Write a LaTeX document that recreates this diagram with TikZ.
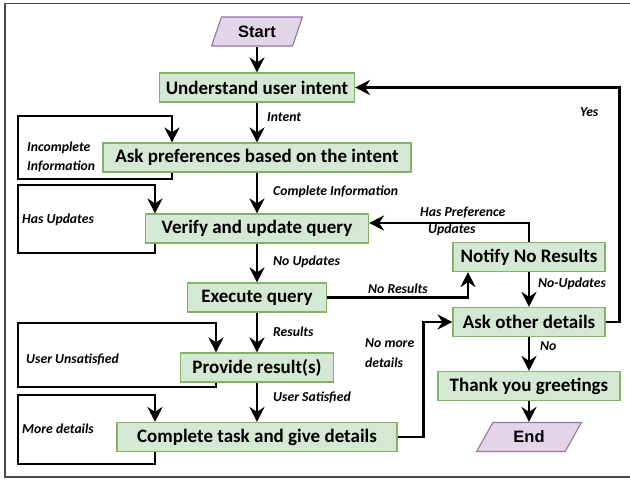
\documentclass[tikz,border=0pt]{standalone}
\usepackage{fontspec}
\setmainfont{Carlito}
\newfontfamily\termfont{Liberation Sans}
\usetikzlibrary{arrows.meta,shapes.geometric}
\definecolor{procF}{HTML}{D5E8D4}
\definecolor{procB}{HTML}{82B366}
\definecolor{termF}{HTML}{E1D5E7}
\definecolor{termB}{HTML}{9673A6}
\definecolor{frameC}{HTML}{4A4A4A}
\begin{document}
\begin{tikzpicture}[x=1pt,y=-1pt,
  proc/.style={draw=procB, fill=procF, line width=1.1pt, minimum height=29pt, inner sep=0pt, font=\bfseries\fontsize{19}{22}\selectfont},
  term/.style={trapezium, trapezium stretches=true, trapezium left angle=66, trapezium right angle=114, draw=termB, fill=termF, line width=1.1pt, minimum height=29pt, inner sep=0pt, font=\termfont\bfseries\fontsize{16.5}{19}\selectfont},
  arr/.style={line width=2.8pt, -{Stealth[length=15pt,width=15pt,inset=5pt]}},
  lab/.style={font=\bfseries\itshape\fontsize{13.7}{17}\selectfont, anchor=west, inner sep=0pt, align=left},
]
\useasboundingbox (0,0) rectangle (630,481);
\draw[frameC, line width=1.5pt] (5,3.5) rectangle (632,477);

% nodes
\node[term, minimum width=91pt] (start) at (257,31.5) {Start};
\node[proc, minimum width=195pt] (understand) at (257,87.5) {Understand user intent};
\node[proc, minimum width=308pt] (askpref) at (257,157.5) {Ask preferences based on the intent};
\node[proc, minimum width=223pt] (verify) at (257,228.5) {Verify and update query};
\node[proc, minimum width=139pt] (exec) at (257,297.5) {Execute query};
\node[proc, minimum width=153pt] (provide) at (257,367.5) {Provide result(s)};
\node[proc, minimum width=280pt] (complete) at (257,437) {Complete task and give details};
\node[proc, minimum width=152pt] (notify) at (529,257) {Notify No Results};
\node[proc, minimum width=152pt] (askother) at (529,322) {Ask other details};
\node[proc, minimum width=182pt] (thanks) at (529,386) {Thank you greetings};
\node[term, minimum width=105pt, trapezium left angle=60, trapezium right angle=120] (end) at (529,437) {End};

% helper x positions
\coordinate (xa) at (172,0);
\coordinate (xb) at (155,0);
\coordinate (xc) at (216,0);
\coordinate (xr) at (468,0);

% main column
\draw[arr] (start.south) -- (start.south |- understand.north);
\draw[arr] (understand.south) -- (understand.south |- askpref.north);
\draw[arr] (askpref.south) -- (askpref.south |- verify.north);
\draw[arr] (verify.south) -- (verify.south |- exec.north);
\draw[arr] (exec.south) -- (exec.south |- provide.north);
\draw[arr] (provide.south) -- (provide.south |- complete.north);

% right column
\draw[arr] (notify.south) -- (notify.south |- askother.north);
\draw[arr] (askother.south) -- (askother.south |- thanks.north);
\draw[arr] (thanks.south) -- (thanks.south |- end.north);

% cross links
\draw[arr] (exec.east) -| (notify.south -| xr);
\draw[arr] (notify.north) |- ([yshift=5.5pt]verify.east);
\draw[arr] (complete.east) -- ++(26,0) |- (askother.west);
\draw[arr] (askother.east) -- ++(14,0) |- (understand.east);

% loops
\draw[arr] (askpref.south -| xa) -- (172,179) -- (18,179) -- (18,116) -- (172,116) -- (askpref.north -| xa);
\draw[arr] (verify.south -| xb) -- (155,253) -- (18,253) -- (18,185) -- (155,185) -- (verify.north -| xb);
\draw[arr] (provide.south -| xc) -- (216,387) -- (18,387) -- (18,323) -- (216,323) -- (provide.north -| xc);
\draw[arr] (complete.south -| xb) -- (155,464) -- (18,464) -- (18,395) -- (155,395) -- (complete.north -| xb);

% labels
\node[lab] (lintent) at (267,117) {Intent};
\node[lab] (lcomplete) at (273,192) {Complete Information};
\node[lab] (lnoupd) at (273,262) {No Updates};
\node[lab] (lresults) at (273,332) {Results};
\node[lab] (lsatisfied) at (273,397) {User Satisfied};
\node[lab] (lhaspref) at (420,221.5) {Has Preference\\\hspace{8pt}Updates};
\node[lab] (lnoresults) at (368,289) {No Results};
\node[lab] (lnoupd2) at (538,284) {No-Updates};
\node[lab] (lno) at (540,346) {No};
\node[lab] (lyes) at (580,112) {Yes};
\node[lab, font=\bfseries\itshape\fontsize{13.7}{20}\selectfont] (lnomore) at (365,353) {No more\\details};
\node[lab, font=\bfseries\itshape\fontsize{13.7}{19}\selectfont] (lincomplete) at (27,156.5) {Incomplete\\Information};
\node[lab] (lhasupd) at (22,220) {Has Updates};
\node[lab] (lunsat) at (26,359) {User Unsatisfied};
\node[lab] (lmore) at (22,429) {More details};
\end{tikzpicture}
\end{document}
